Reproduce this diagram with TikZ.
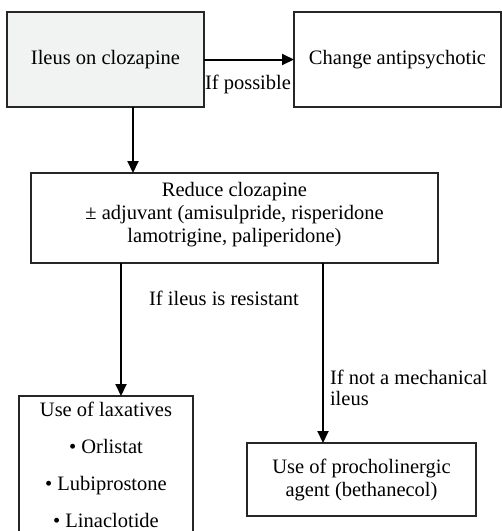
\documentclass[tikz,border=0pt]{standalone}
\usepackage{fontspec}
\setmainfont{Liberation Serif}
\usetikzlibrary{arrows.meta}
\definecolor{boxgray}{HTML}{F1F2F2}
\begin{document}
\begin{tikzpicture}[x=1pt,y=1pt,
  box/.style={draw=black!85,line width=1.1pt,rectangle,inner sep=0pt,outer sep=0pt},
  txt/.style={inner sep=0pt,outer sep=0pt,font=\fontsize{20.5}{23}\selectfont,align=center},
  arr/.style={line width=2pt,-{Triangle[length=12pt,width=11pt]}},
  conn/.style={line width=2pt}]
\useasboundingbox (0,0) rectangle (502,-531);
% boxes
\node[box,fill=boxgray,minimum width=197pt,minimum height=95pt] (b1) at (105.5,-59.5) {};
\node[txt] (t1) at (b1.center) {Ileus on clozapine};
\node[box,minimum width=207pt,minimum height=95pt] (b2) at (397.5,-59.5) {};
\node[txt] (t2) at (b2.center) {Change antipsychotic};
\node[box,minimum width=407pt,minimum height=90pt] (b3) at (234.5,-218) {};
\node[txt,anchor=north] (t3) at (234.5,-182) {Reduce clozapine\\ ± adjuvant (amisulpride, risperidone\\ lamotrigine, paliperidone)};
\node[box,minimum width=174pt,minimum height=150pt,anchor=north] (b4) at (106,-396) {};
\node[txt,anchor=north,font=\fontsize{20.5}{37}\selectfont] (t4) at (106,-402) {Use of laxatives\\ • Orlistat\\ • Lubiprostone\\ • Linaclotide};
\node[box,minimum width=229pt,minimum height=73pt] (b5) at (361.5,-479.5) {};
\node[txt] (t5) at (b5.center) {Use of procholinergic\\ agent (bethanecol)};
% connectors
\draw[arr] (b1.east) -- (b2.west);
\node[txt,anchor=west] (lp) at (205,-84) {If possible};
\coordinate (cx1) at (133,0);
\draw[arr] (b1.south -| cx1) -- (b3.north -| cx1);
\coordinate (cx2) at (121,0);
\coordinate (cx3) at (323,0);
\draw[arr] (b3.south -| cx2) -- (b4.north -| cx2);
\draw[arr] (b3.south -| cx3) -- (b5.north -| cx3);
\node[txt] (lr) at (224,-298) {If ileus is resistant};
\node[txt,anchor=north west,align=left,font=\fontsize{20.5}{21}\selectfont] (lm) at (330,-370) {If not a mechanical\\ ileus};
\end{tikzpicture}
\end{document}
